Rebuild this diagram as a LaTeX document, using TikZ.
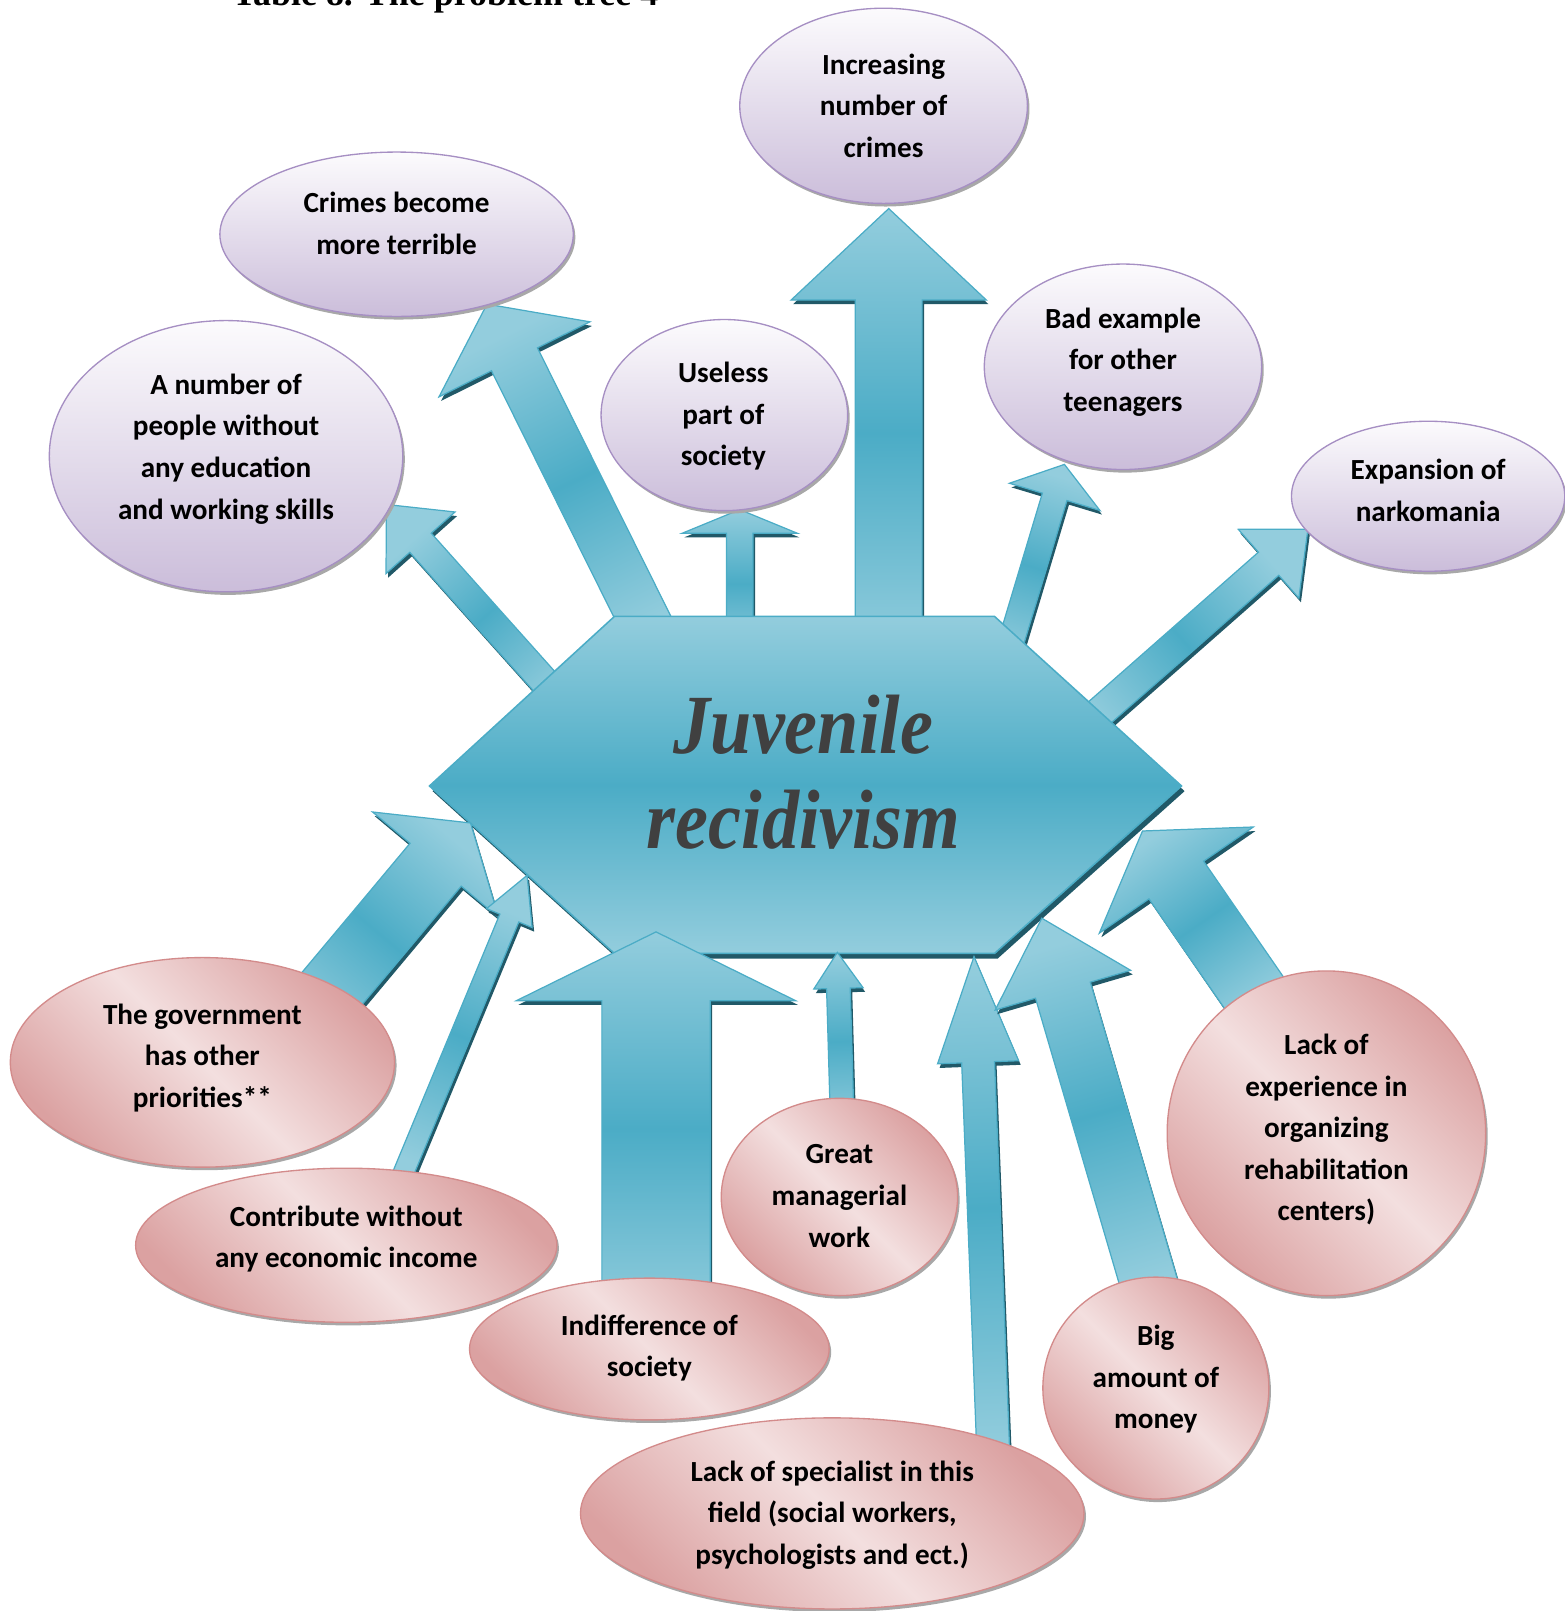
\documentclass[tikz,border=0pt]{standalone}
\usepackage{fontspec}
\usepackage{graphicx}
\setmainfont{Carlito}
\newfontfamily\jrfont{Liberation Serif}
\usetikzlibrary{calc,shapes.geometric,shadows}
\definecolor{arrlight}{HTML}{93CDDD}
\definecolor{arrmid}{HTML}{4BACC6}
\definecolor{arrline}{HTML}{4BACC6}
\definecolor{arrshadow}{HTML}{215968}
\definecolor{lavtop}{HTML}{FCFBFD}
\definecolor{lavbot}{HTML}{CBBDDA}
\definecolor{lavline}{HTML}{A68FC3}
\definecolor{pinkdark}{HTML}{DBA1A1}
\definecolor{pinklight}{HTML}{F3DFDF}
\definecolor{pinkline}{HTML}{D38B8B}
\definecolor{ellshadow}{HTML}{A8A8A8}
\definecolor{jrgray}{HTML}{404040}
\tikzset{
  arrowbody/.style={draw=arrline, line width=1.2pt, line join=miter,
    top color=arrlight, bottom color=arrlight, middle color=arrmid},
  topell/.style={ellipse, draw=lavline, line width=1.3pt, inner sep=0pt,
    top color=lavtop, bottom color=lavbot,
    drop shadow={shadow xshift=2pt, shadow yshift=-3pt, fill=ellshadow, opacity=1}},
  botell/.style={ellipse, draw=pinkline, line width=1.3pt, inner sep=0pt,
    top color=pinkdark, bottom color=pinkdark, middle color=pinklight, shading angle=-45,
    drop shadow={shadow xshift=2pt, shadow yshift=-3pt, fill=ellshadow, opacity=1}},
  etext/.style={align=center, text=black, font=\bfseries\fontsize{28.4}{40.5}\selectfont},
  jrtext/.style={anchor=base, text=jrgray, font=\jrfont\bfseries\itshape\fontsize{82}{90}\selectfont},
  hexstyle/.style={draw=arrline, line width=1.5pt, line join=miter,
    top color=arrlight, bottom color=arrlight, middle color=arrmid,
    drop shadow={shadow xshift=3pt, shadow yshift=-5pt, fill=arrshadow, opacity=1}}
}
% #1 tail, #2 tip, #3 half shaft width, #4 half head width, #5 head length
\newcommand\blockarrow[5]{%
  \pgfmathanglebetweenpoints{\pgfpointanchor{#1}{center}}{\pgfpointanchor{#2}{center}}%
  \pgfmathsetmacro\barang{\pgfmathresult-90}%
  \coordinate (#2hb) at ($(#2)!#5!(#1)$);
  \path[fill=arrshadow, transform canvas={shift={(2pt,-4pt)}}]
    ($(#1)!#3!90:(#2)$) -- ($(#2hb)!#3!90:(#2)$) -- ($(#2hb)!#4!90:(#2)$) -- (#2)
    -- ($(#2hb)!#4!-90:(#2)$) -- ($(#2hb)!#3!-90:(#2)$) -- ($(#1)!#3!-90:(#2)$) -- cycle;
  \path[arrowbody, shading angle=\barang]
    ($(#1)!#3!90:(#2)$) -- ($(#2hb)!#3!90:(#2)$) -- ($(#2hb)!#4!90:(#2)$) -- (#2)
    -- ($(#2hb)!#4!-90:(#2)$) -- ($(#2hb)!#3!-90:(#2)$) -- ($(#1)!#3!-90:(#2)$) -- cycle;
}
\begin{document}
\begin{tikzpicture}[x=1pt,y=-1pt]
\useasboundingbox (0,0) rectangle (1523,1568);

% title (cut at the top edge, as in the reference)
\node[anchor=base west, inner sep=0pt, font=\jrfont\bfseries\fontsize{35}{40}\selectfont] (title) at (226,5) {Table 8. The problem tree 4};

% arrow end points
\coordinate (aT) at (865,640);   \coordinate (aP) at (865,203);
\coordinate (bT) at (645,640);   \coordinate (bP) at (474,296);
\coordinate (cT) at (560,697);   \coordinate (cP) at (376,491);
\coordinate (dT) at (720,640);   \coordinate (dP) at (720,496);
\coordinate (eT) at (975,655);   \coordinate (eP) at (1036,452);
\coordinate (fT) at (1039.5,720.6); \coordinate (fP) at (1273,515);
\coordinate (gT) at (282.6,1010.6); \coordinate (gP) at (458,801);
\coordinate (hT) at (385,1160);  \coordinate (hP) at (513,852);
\coordinate (iT) at (638.5,1290); \coordinate (iP) at (638.5,907);
\coordinate (jT) at (820,1100);  \coordinate (jP) at (815,927);
\coordinate (kT) at (967,1420);  \coordinate (kP) at (948,931);
\coordinate (lT) at (1124.6,1271); \coordinate (lP) at (1014,893.7);
\coordinate (mT) at (1230,980);  \coordinate (mP) at (1112,808.8);

% upper arrows
\blockarrow{aT}{aP}{32.5pt}{95pt}{89pt}
\blockarrow{bT}{bP}{25pt}{82pt}{60pt}
\blockarrow{cT}{cP}{14pt}{45pt}{50pt}
\blockarrow{dT}{dP}{13pt}{56pt}{23pt}
\blockarrow{eT}{eP}{12.5pt}{46pt}{33pt}
\blockarrow{fT}{fP}{15pt}{44.6pt}{51pt}

% upper ellipses
\node[topell, minimum width=280pt, minimum height=190pt] (e1) at (860,103) {};
\node[etext] (t1) at (860,103) {Increasing\\number of\\crimes};
\node[topell, minimum width=344pt, minimum height=160pt] (e2) at (386,228) {};
\node[etext] (t2) at (386,217.5) {Crimes become\\more terrible};
\node[topell, minimum width=344pt, minimum height=264pt] (e3) at (220,444) {};
\node[etext] (t3) at (220,437) {A number of\\people without\\any education\\and working skills};
\node[topell, minimum width=240pt, minimum height=186pt] (e4) at (705,404) {};
\node[etext] (t4) at (704,405) {Useless\\part of\\society};
\node[topell, minimum width=270pt, minimum height=200pt] (e5) at (1093,357) {};
\node[etext] (t5) at (1093,352.5) {Bad example\\for other\\teenagers};
\node[topell, minimum width=266pt, minimum height=146pt] (e6) at (1390,483) {};
\node[etext] (t6) at (1390,477) {Expansion of\\narkomania};

% central hexagon
\path[hexstyle] (598,600) -- (968,600) -- (1150,765) -- (968,928) -- (598,928) -- (418,765) -- cycle;
\node[jrtext] (jr1) at (782,733) {\scalebox{0.88}[1]{Juvenile}};
\node[jrtext] (jr2) at (782,826) {\scalebox{0.88}[1]{recidivism}};

% lower arrows
\blockarrow{gT}{gP}{32.5pt}{80pt}{53pt}
\blockarrow{hT}{hP}{10pt}{24pt}{45pt}
\blockarrow{iT}{iP}{52.7pt}{136pt}{67pt}
\blockarrow{jT}{jP}{11.5pt}{24pt}{35pt}
\blockarrow{kT}{kP}{16pt}{39.5pt}{103pt}
\blockarrow{lT}{lP}{27.8pt}{68.7pt}{73pt}
\blockarrow{mT}{mP}{32.3pt}{91pt}{58pt}

% lower ellipses
\node[botell, minimum width=374pt, minimum height=204pt] (e7) at (197,1034) {};
\node[etext] (t7) at (197,1029.5) {The government\\has other\\priorities**};
\node[botell, minimum width=410pt, minimum height=150pt] (e8) at (337,1212) {};
\node[etext] (t8) at (337,1206) {Contribute without\\any economic income};
\node[botell, minimum width=350pt, minimum height=138pt] (e9) at (632,1313) {};
\node[etext] (t9) at (632,1312) {Indifference of\\society};
\node[botell, minimum width=230pt, minimum height=192pt] (e10) at (817,1165) {};
\node[etext] (t10) at (817,1164) {Great\\managerial\\work};
\node[botell, minimum width=490pt, minimum height=186pt] (e11) at (810,1473) {};
\node[etext] (t11) at (810,1474.5) {Lack of specialist in this\\field (social workers,\\psychologists and ect.)};
\node[botell, minimum width=220pt, minimum height=216pt] (e12) at (1125,1351) {};
\node[etext] (t12) at (1125,1342.5) {Big\\amount of\\money};
\node[botell, minimum width=310pt, minimum height=316pt] (e13) at (1291,1103) {};
\node[etext] (t13) at (1291,1099.5) {Lack of\\experience in\\organizing\\rehabilitation\\centers)};
\end{tikzpicture}
\end{document}
